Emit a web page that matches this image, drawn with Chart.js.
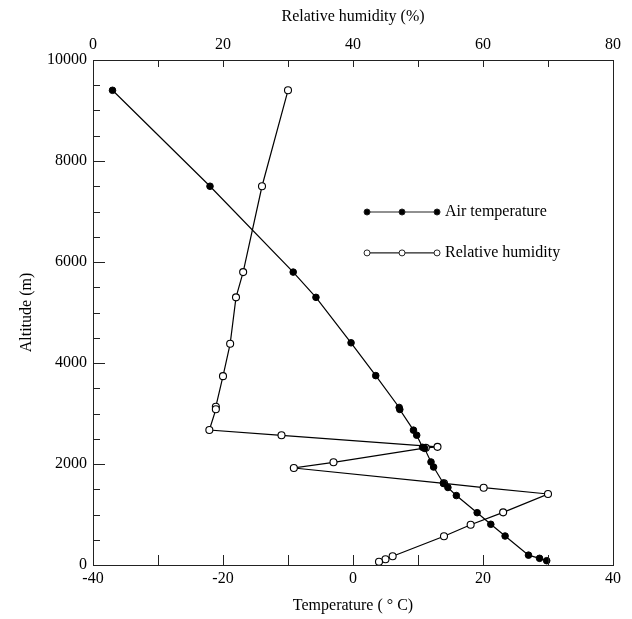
<!DOCTYPE html>
<html>
<head>
<meta charset="utf-8">
<script src="https://cdn.jsdelivr.net/npm/chart.js@4"></script>
<style>
  body { margin: 0; background: #fff; }
  canvas { display: block; }
</style>
</head>
<body>
<canvas id="chart" width="632" height="619"></canvas>
<script>
// Air temperature profile (deg C vs altitude m)
var tempValues = [-37, -22, -9.2, -5.7, -0.3, 3.5, 7.1, 7.2, 9.3, 9.8, 10.7, 11.0, 12.0, 12.4, 13.9, 14.6, 15.9, 19.1, 21.2, 23.4, 27.0, 28.7, 29.8];
var tempAltitudes = [9400, 7500, 5800, 5300, 4400, 3750, 3120, 3080, 2670, 2570, 2330, 2310, 2040, 1940, 1620, 1535, 1375, 1036, 806, 574, 195, 132, 85];

// Relative humidity profile (% vs altitude m)
var rhValues = [30, 26, 23.1, 22, 21.1, 20, 18.9, 18.9, 17.9, 29, 53, 51.2, 37, 30.9, 54, 60.1, 70, 63.1, 58.1, 54, 46.1, 45, 44];
var rhAltitudes = [9400, 7500, 5800, 5300, 4380, 3740, 3135, 3083, 2673, 2568, 2340, 2320, 2034, 1921, 1618, 1531, 1406, 1043, 798, 568, 172, 113, 65];

var tempTicks = [-40, -20, 0, 20, 40];
var rhTicks = [0, 20, 40, 60, 80];
var altTicks = [0, 2000, 4000, 6000, 8000, 10000];

var FONT = "'Liberation Serif', 'Times New Roman', serif";

function toPoints(xs, ys) {
    var pts = [];
    for (var i = 0; i < xs.length; i++) {
        pts.push({x: xs[i], y: ys[i]});
    }
    return pts;
}

function labelEvery(list) {
    return function (v) {
        return list.indexOf(v) >= 0 ? String(v) : '';
    };
}

// frame + inward tick marks + legend
var framePlugin = {
    id: 'frame',
    afterDraw: function (chart) {
        var ctx = chart.ctx;
        var a = chart.chartArea;
        ctx.save();
        ctx.strokeStyle = '#222';
        ctx.lineWidth = 1;
        ctx.strokeRect(a.left + 0.5, a.top + 0.5, a.right - a.left, a.bottom - a.top);

        ctx.beginPath();
        chart.scales.x.ticks.forEach(function (t) {
            var px = Math.round(chart.scales.x.getPixelForValue(t.value)) + 0.5;
            ctx.moveTo(px, a.bottom);
            ctx.lineTo(px, a.bottom - 10);
        });
        chart.scales.x2.ticks.forEach(function (t) {
            var px = Math.round(chart.scales.x2.getPixelForValue(t.value)) + 0.5;
            ctx.moveTo(px, a.top);
            ctx.lineTo(px, a.top + 7);
        });
        chart.scales.y.ticks.forEach(function (t) {
            var py = Math.round(chart.scales.y.getPixelForValue(t.value)) + 0.5;
            var len = altTicks.indexOf(t.value) >= 0 ? 12 : 7;
            ctx.moveTo(a.left, py);
            ctx.lineTo(a.left + len, py);
        });
        ctx.stroke();

        // legend
        var lx = a.left + (a.right - a.left) * 0.527;
        var rows = [
            {y: a.top + (a.bottom - a.top) * 0.301, label: 'Air temperature', filled: true},
            {y: a.top + (a.bottom - a.top) * 0.382, label: 'Relative humidity', filled: false}
        ];
        rows.forEach(function (r) {
            ctx.beginPath();
            ctx.lineWidth = 1.2;
            ctx.moveTo(lx, r.y);
            ctx.lineTo(lx + 70, r.y);
            ctx.stroke();
            [0, 35, 70].forEach(function (dx) {
                ctx.beginPath();
                ctx.arc(lx + dx, r.y, 3, 0, Math.PI * 2);
                ctx.fillStyle = r.filled ? '#000' : '#fff';
                ctx.fill();
                ctx.lineWidth = 1;
                ctx.stroke();
            });
            ctx.fillStyle = '#000';
            ctx.font = '16px ' + FONT;
            ctx.textAlign = 'left';
            ctx.textBaseline = 'middle';
            ctx.fillText(r.label, lx + 78, r.y);
        });
        ctx.restore();
    }
};

new Chart('chart', {
    type: 'scatter',
    data: {
        datasets: [{
            label: 'Air temperature',
            data: toPoints(tempValues, tempAltitudes),
            xAxisID: 'x',
            yAxisID: 'y',
            showLine: true,
            borderColor: '#000',
            borderWidth: 1.2,
            pointRadius: 3.3,
            pointBackgroundColor: '#000',
            pointBorderColor: '#000',
            pointBorderWidth: 1
        }, {
            label: 'Relative humidity',
            data: toPoints(rhValues, rhAltitudes),
            xAxisID: 'x2',
            yAxisID: 'y',
            showLine: true,
            borderColor: '#000',
            borderWidth: 1.2,
            pointRadius: 3.5,
            pointBackgroundColor: '#fff',
            pointBorderColor: '#000',
            pointBorderWidth: 1.1
        }]
    },
    options: {
        responsive: false,
        animation: false,
        devicePixelRatio: 1,
        layout: { padding: { right: 19, left: 0, top: 0, bottom: 0 } },
        plugins: {
            legend: { display: false },
            tooltip: { enabled: false }
        },
        scales: {
            x: {
                type: 'linear',
                position: 'bottom',
                min: -40,
                max: 40,
                grid: { display: false, drawTicks: false },
                border: { display: false },
                ticks: {
                    stepSize: 10,
                    autoSkip: false,
                    maxRotation: 0,
                    padding: 4,
                    color: '#000',
                    font: { family: FONT, size: 16 },
                    callback: labelEvery(tempTicks)
                },
                title: {
                    display: true,
                    text: 'Temperature ( \u00B0 C)',
                    color: '#000',
                    font: { family: FONT, size: 16 },
                    padding: { top: 0, bottom: 4 }
                },
                afterFit: function (s) { s.height = 54; }
            },
            x2: {
                type: 'linear',
                position: 'top',
                min: 0,
                max: 80,
                grid: { display: false, drawTicks: false },
                border: { display: false },
                ticks: {
                    stepSize: 10,
                    autoSkip: false,
                    maxRotation: 0,
                    padding: 6,
                    color: '#000',
                    font: { family: FONT, size: 16 },
                    callback: labelEvery(rhTicks)
                },
                title: {
                    display: true,
                    text: 'Relative humidity (%)',
                    color: '#000',
                    font: { family: FONT, size: 16 },
                    padding: { top: 7, bottom: 0 }
                },
                afterFit: function (s) { s.height = 60; }
            },
            y: {
                type: 'linear',
                position: 'left',
                min: 0,
                max: 10000,
                grid: { display: false, drawTicks: false },
                border: { display: false },
                ticks: {
                    stepSize: 500,
                    autoSkip: false,
                    padding: 6,
                    color: '#000',
                    font: { family: FONT, size: 16 },
                    callback: labelEvery(altTicks)
                },
                title: {
                    display: true,
                    text: 'Altitude (m)',
                    color: '#000',
                    font: { family: FONT, size: 16 },
                    padding: { top: 17, bottom: 0 }
                },
                afterFit: function (s) { s.width = 93; }
            }
        }
    },
    plugins: [framePlugin]
});
</script>
</body>
</html>
